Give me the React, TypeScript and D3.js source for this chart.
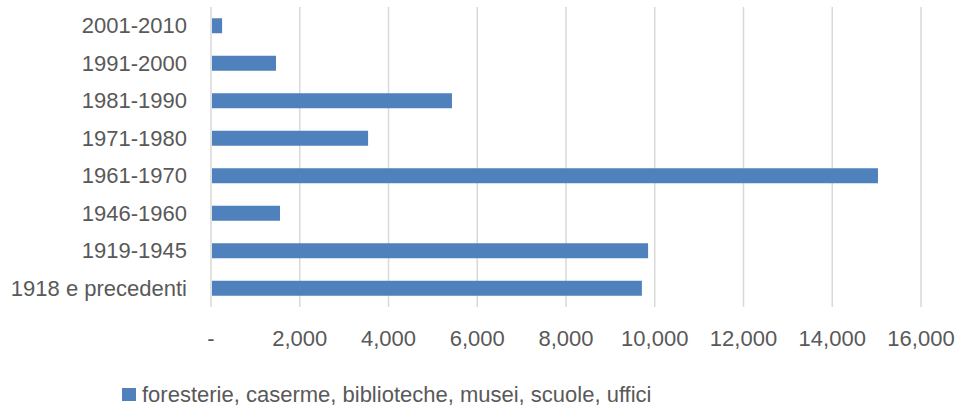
import { useEffect, useRef } from "react";
import * as d3 from "d3";

const categories = [
  "2001-2010",
  "1991-2000",
  "1981-1990",
  "1971-1980",
  "1961-1970",
  "1946-1960",
  "1919-1945",
  "1918 e precedenti",
];
const values = [250, 1465, 5430, 3540, 15030, 1555, 9850, 9710];
const tickValues = [0, 2000, 4000, 6000, 8000, 10000, 12000, 14000, 16000];
const seriesName = "foresterie, caserme, biblioteche, musei, scuole, uffici";

function App() {
  const ref = useRef<SVGSVGElement>(null);
  const width = 955;
  const height = 408;

  useEffect(() => {
    const svg = d3.select(ref.current);
    svg.selectAll("*").remove();

    const font = "'Liberation Sans', Arial, sans-serif";
    const textColor = "#595959";
    const left = 211;
    const right = 921;
    const top = 7;
    const bottom = 307;

    const x = d3.scaleLinear().domain([0, 16000]).range([left, right]);
    const y = d3
      .scaleBand()
      .domain(categories)
      .range([top, bottom])
      .paddingInner(0.6)
      .paddingOuter(0.3);

    // gridlines
    svg
      .selectAll("line.grid")
      .data(tickValues)
      .enter()
      .append("line")
      .attr("class", "grid")
      .attr("x1", (d) => x(d))
      .attr("x2", (d) => x(d))
      .attr("y1", top)
      .attr("y2", bottom)
      .attr("stroke", "#d9d9d9")
      .attr("stroke-width", 1.5);

    // bars
    svg
      .selectAll("rect.bar")
      .data(values)
      .enter()
      .append("rect")
      .attr("class", "bar")
      .attr("x", x(0) + 1)
      .attr("y", (_, i) => y(categories[i]) as number)
      .attr("width", (d) => x(d) - x(0) - 1)
      .attr("height", y.bandwidth())
      .attr("fill", "#4f81bd");

    // category labels
    svg
      .selectAll("text.cat")
      .data(categories)
      .enter()
      .append("text")
      .attr("class", "cat")
      .attr("x", 187)
      .attr("y", (d) => (y(d) as number) + y.bandwidth() / 2)
      .attr("dy", "0.35em")
      .attr("text-anchor", "end")
      .attr("font-family", font)
      .attr("font-size", 22)
      .attr("fill", textColor)
      .text((d) => d);

    // x tick labels
    const fmt = d3.format(",");
    svg
      .selectAll("text.tick")
      .data(tickValues)
      .enter()
      .append("text")
      .attr("class", "tick")
      .attr("x", (d) => x(d))
      .attr("y", 338)
      .attr("dy", "0.35em")
      .attr("text-anchor", "middle")
      .attr("font-family", font)
      .attr("font-size", 22)
      .attr("fill", textColor)
      .text((d) => (d === 0 ? "-" : fmt(d)));

    // legend
    svg
      .append("rect")
      .attr("x", 122)
      .attr("y", 388)
      .attr("width", 14)
      .attr("height", 13)
      .attr("fill", "#4f81bd");
    svg
      .append("text")
      .attr("x", 142)
      .attr("y", 394)
      .attr("dy", "0.35em")
      .attr("font-family", font)
      .attr("font-size", 22)
      .attr("fill", textColor)
      .text(seriesName);
  }, []);

  return (
    <svg
      ref={ref}
      width={width}
      height={height}
      style={{ position: "absolute", left: 0, top: 0, background: "#fff" }}
    />
  );
}

export default App;
